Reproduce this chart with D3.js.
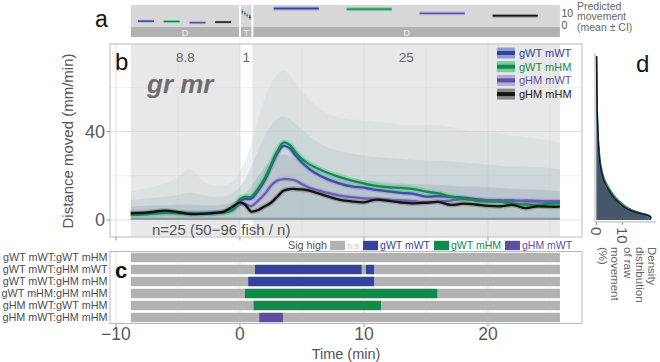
<!DOCTYPE html>
<html>
<head>
<meta charset="utf-8">
<script src="https://cdn.jsdelivr.net/npm/d3@7"></script>
<style>
  body { margin: 0; background: #fff; }
  text { font-family: "Liberation Sans", Arial, Helvetica, sans-serif; }
</style>
</head>
<body>
<svg id="chart" width="660" height="362"></svg>
<script>
"use strict";

// ---- data ----
const groups = ["gWT mWT", "gWT mHM", "gHM mWT", "gHM mHM"];
const groupColors = ["#34439b", "#0f8a4b", "#5d50a2", "#161616"];
const lineColors = ["#3d4ea6", "#128c4d", "#6a5db2", "#121212"];
const haloColors = ["#8a94cc", "#6cc595", "#aaa2d8", "#7d7d7d"];

const periodNames = ["D", "T", "D"];
const periodLabels = ["8.8", "1", "25"];
const periodStart = [-8.8, 0, 1];
const periodEnd = [0, 1, 25.8];

// predicted movement (panel a), per group, per period
const predPre = [3.6, 3.3, 2.3, 2.8];
const predPreCI = [1.1, 1.1, 1.3, 1.0];
const predTrans = [11.5, 10.0, 8.5, 7.0];
const predTransCI = [2.2, 2.2, 2.2, 2.2];
const predPost = [14.4, 13.8, 10.2, 8.2];
const predPostCI = [1.6, 1.6, 1.5, 1.4];

// mean traces (panel b)
const times = [-8.8, -7.5, -6, -5, -4, -3, -2, -1.3, -0.6, 0, 0.4, 0.9, 1.5, 2, 2.5, 3, 3.5, 4, 4.5, 5,
  5.5, 6, 7, 8, 9, 10, 11, 12, 13, 14, 15, 16, 17, 18, 19, 20, 21, 22, 23, 24, 25, 25.8];
const meanWTWT = [2.8, 3.0, 3.6, 3.3, 3.0, 3.0, 3.3, 3.6, 4.6, 8.8, 9.5, 9.6, 13.5, 18, 24, 30, 33.5, 32.5, 29, 26,
  23.5, 21.5, 18.6, 16.6, 15.2, 14.6, 13.6, 12.9, 12.3, 11.8, 10.6, 10.8, 10.4, 10.1, 9.4, 9.0, 8.8, 8.8, 8.4, 8.4, 8.3, 8.3];
const meanWTHM = [2.2, 2.6, 3.2, 3.0, 2.8, 2.9, 3.0, 3.4, 4.5, 9.5, 10.5, 10.5, 14.5, 19, 25, 31, 35, 34, 30.5, 27.5,
  25.5, 24, 21.5, 19.5, 17.8, 16.5, 15.4, 14.8, 14.5, 14.0, 12.8, 12.0, 10.6, 9.7, 8.8, 8.3, 8.2, 7.5, 7.0, 6.9, 7.4, 7.5];
const meanHMWT = [3.2, 3.4, 3.8, 3.4, 3.1, 3.0, 3.3, 3.5, 4.4, 7.0, 7.2, 6.3, 9.0, 11.8, 15.5, 17.8, 18.5, 18.4, 17.8, 16.2,
  14.8, 13.8, 12.4, 11.1, 10.3, 9.8, 9.5, 9.2, 8.8, 8.5, 7.8, 8.3, 8.8, 9.4, 9.0, 8.8, 8.6, 8.4, 8.8, 8.6, 8.5, 8.5];
const meanHMHM = [3.0, 3.3, 4.2, 3.5, 2.7, 2.8, 3.2, 3.8, 6.0, 8.0, 7.0, 3.8, 4.6, 6.2, 7.8, 10.5, 13.2, 14.0, 14.0, 13.8,
  13.4, 12.6, 10.8, 9.2, 8.4, 8.0, 9.2, 8.6, 7.9, 7.5, 7.8, 8.2, 6.8, 7.4, 7.0, 6.4, 6.2, 6.8, 5.4, 6.2, 6.0, 6.0];

// spread of the individual traces (panel b background)
const cloudT = [-8.8, -7, -5, -4, -3, -1.5, -0.5, 0, 0.5, 1, 1.5, 2, 2.5, 3, 3.5, 4, 5, 6, 7, 8, 10, 12, 14, 16, 18, 20, 22, 24, 25.8];
const cloudOuter = [13, 15, 18, 26, 16, 15, 17, 22, 28, 36, 46, 55, 62, 66, 68, 66, 58, 52, 48, 46, 45, 44, 42, 44, 40, 40, 38, 37, 35];
const cloudMid = [9, 10, 11, 13, 11, 10, 12, 15, 19, 25, 32, 38, 43, 46, 47, 46, 41, 36, 33, 31, 29, 28, 27, 27, 26, 25, 24, 24, 23];
const cloudInner = [6, 6.5, 7, 7, 6.5, 6.5, 8, 10, 12, 16, 20, 24, 27, 29, 30, 29, 26, 23, 21, 19, 18, 17, 16, 16, 15, 15, 14, 14, 13];

// significance (panel c)
const sigPairs = ["gWT mWT:gWT mHM", "gWT mWT:gHM mWT", "gWT mWT:gHM mHM",
  "gWT mHM:gHM mHM", "gHM mWT:gWT mHM", "gHM mWT:gHM mHM"];
const sigRow = [1, 1, 2, 3, 4, 5];
const sigFrom = [1.21, 10.16, 0.67, 0.40, 1.10, 1.56];
const sigTo = [9.81, 10.81, 10.81, 15.91, 11.37, 3.47];
const sigHigh = ["gWT mWT", "gWT mWT", "gWT mWT", "gWT mHM", "gWT mHM", "gHM mWT"];

// density of raw movement (panel d)
const densV = [0, 1, 1.5, 2.3, 3, 4.5, 6, 7.7, 10.4, 14.9, 18.1, 24, 36, 51, 74];
const densWTWT = [19, 20, 20.5, 20, 17.5, 13.5, 11, 9.2, 6.5, 4.1, 2.4, 1.2, 0.6, 0.25, 0.05];
const densWTHM = [18, 19, 19.5, 19, 17, 13.5, 11.2, 9.6, 7.0, 4.6, 3.0, 1.6, 0.7, 0.2, 0];
const densHMWT = [19.5, 20.5, 21, 20, 17, 13, 10.6, 9.0, 6.4, 3.9, 2.4, 1.2, 0.5, 0.2, 0];
const densHMHM = [20.5, 21, 21, 19.5, 16.5, 12.5, 10.2, 8.8, 6.2, 4.0, 2.6, 1.3, 0.6, 0.2, 0];

const xTicks = [-10, 0, 10, 20];
const xMinor = [-5, 5, 15, 25];
const yTicks = [0, 40];
const yMinor = [20, 60];

// ---- scales ----
const svg = d3.select("#chart");
const x = d3.scaleLinear().domain([-10.48, 27.58]).range([110, 582]);
const yB = d3.scaleLinear().domain([-7.7, 79.6]).range([237, 44]);
const yA = d3.scaleLinear().domain([-1.4, 17.4]).range([27, 5]);
const xD = d3.scaleLinear().domain([0, 10]).range([596.5, 622.5]);
const means = [meanWTWT, meanWTHM, meanHMWT, meanHMHM];
const dens = [densWTWT, densWTHM, densHMWT, densHMHM];
const axisGrey = "#595959";

// ---- panel a ----
const gA = svg.append("g");
const preds = [predPre, predTrans, predPost];
const predCIs = [predPreCI, predTransCI, predPostCI];
periodStart.forEach((s, i) => {
  const x0 = x(s) + (i > 0 ? 1 : 0);
  const x1 = x(periodEnd[i]) - (i < 2 ? 1 : 0);
  const w = x1 - x0;
  gA.append("rect").attr("x", x0).attr("y", 5).attr("width", w).attr("height", 22).attr("fill", "#d7d7d7");
  gA.append("rect").attr("x", x0).attr("y", 27).attr("width", w).attr("height", 10).attr("fill", "#b2b2b2");
  gA.append("text").attr("x", x0 + w / 2).attr("y", 35.5).attr("text-anchor", "middle")
    .attr("font-size", 9).attr("fill", "#f2f2f2").text(periodNames[i]);
  groups.forEach((g, j) => {
    const cx = x0 + w * (0.14 + 0.238 * j);
    const len = Math.max(w * 0.147, 1.6);
    const m = preds[i][j], ci = predCIs[i][j];
    gA.append("rect").attr("x", cx - len / 2).attr("y", yA(m + ci))
      .attr("width", len).attr("height", yA(m - ci) - yA(m + ci))
      .attr("fill", haloColors[j]).attr("opacity", 0.9);
    gA.append("line").attr("x1", cx - len / 2).attr("x2", cx + len / 2)
      .attr("y1", yA(m)).attr("y2", yA(m)).attr("stroke", groupColors[j]).attr("stroke-width", 1.3);
  });
});
[10, 0].forEach(v => {
  gA.append("text").attr("x", 561.5).attr("y", yA(v)).attr("dy", "0.36em")
    .attr("font-size", 10.5).attr("fill", axisGrey).text(v);
});
["Predicted", "movement", "(mean \u00b1 CI)"].forEach((t, i) => {
  gA.append("text").attr("x", 577).attr("y", 6 + i * 10.5).attr("dy", "0.35em")
    .attr("font-size", 10.5).attr("fill", "#666").text(t);
});
svg.append("text").attr("x", 95).attr("y", 27).attr("font-size", 23).attr("fill", "#111").text("a");

// ---- panel b ----
const gB = svg.append("g");
gB.append("rect").attr("x", 110).attr("y", 44).attr("width", 472).attr("height", 193).attr("fill", "#fff");
xTicks.concat(xMinor).forEach(t => {
  gB.append("line").attr("x1", x(t)).attr("x2", x(t)).attr("y1", 44).attr("y2", 237)
    .attr("stroke", "#dedede").attr("stroke-width", xTicks.includes(t) ? 0.9 : 0.5);
});
yTicks.concat(yMinor).forEach(t => {
  gB.append("line").attr("x1", 110).attr("x2", 582).attr("y1", yB(t)).attr("y2", yB(t))
    .attr("stroke", "#dedede").attr("stroke-width", yTicks.includes(t) ? 0.9 : 0.5);
});
periodStart.forEach((s, i) => {
  if (periodNames[i] === "D") {
    gB.append("rect").attr("x", x(s)).attr("y", 44.5).attr("width", x(periodEnd[i]) - x(s))
      .attr("height", 192).attr("fill", "#d2d2d2").attr("opacity", 0.5);
  }
  gB.append("text").attr("x", x((s + periodEnd[i]) / 2)).attr("y", 62).attr("text-anchor", "middle")
    .attr("font-size", 13.5).attr("fill", "#666").text(periodLabels[i]);
});

// trace cloud
const cloudLayers = [[cloudOuter, "#c6d4d7", 0.32], [cloudMid, "#b0c3c8", 0.35], [cloudInner, "#98aeb5", 0.38]];
cloudLayers.forEach(([vals, col, op]) => {
  const area = d3.area().curve(d3.curveBasis)
    .x((d, i) => x(cloudT[i])).y0(yB(0)).y1((d) => yB(d));
  gB.append("path").datum(vals).attr("d", area).attr("fill", col).attr("opacity", op);
});
gB.append("line").attr("x1", x(-8.8)).attr("x2", x(25.8)).attr("y1", yB(0.6)).attr("y2", yB(0.6))
  .attr("stroke", "#6d8590").attr("stroke-width", 2).attr("opacity", 0.7);

// mean lines
const meanLine = d3.line().curve(d3.curveCatmullRom.alpha(0.5)).x((d, i) => x(times[i])).y(d => yB(d));
[0, 2, 1, 3].forEach(j => {
  gB.append("path").datum(means[j]).attr("d", meanLine).attr("fill", "none")
    .attr("stroke", haloColors[j]).attr("stroke-width", j === 1 ? 6 : 5).attr("opacity", 0.55);
});
[0, 2, 1, 3].forEach(j => {
  gB.append("path").datum(means[j]).attr("d", meanLine).attr("fill", "none")
    .attr("stroke", lineColors[j]).attr("stroke-width", 2.3);
});

gB.append("rect").attr("x", 110).attr("y", 44).attr("width", 472).attr("height", 193)
  .attr("fill", "none").attr("stroke", "#b3b3b3").attr("stroke-width", 0.9);

// legend
groups.forEach((g, j) => {
  const yy = 53 + j * 13.7;
  gB.append("rect").attr("x", 497).attr("y", yy - 5.5).attr("width", 18).attr("height", 11)
    .attr("fill", haloColors[j]).attr("opacity", 0.9);
  gB.append("line").attr("x1", 497).attr("x2", 515).attr("y1", yy).attr("y2", yy)
    .attr("stroke", groupColors[j]).attr("stroke-width", 4);
  gB.append("text").attr("x", 519).attr("y", yy).attr("dy", "0.35em").attr("font-size", 11)
    .attr("fill", groupColors[j]).text(g);
});

gB.append("text").attr("x", 147).attr("y", 93).attr("font-size", 26).attr("font-weight", "bold")
  .attr("font-style", "italic").attr("fill", "#6e6e6e").text("gr mr");
gB.append("text").attr("x", 152).attr("y", 235).attr("font-size", 15).attr("fill", "#555")
  .text("n=25 (50\u221296 fish / n)");
svg.append("text").attr("x", 115).attr("y", 70).attr("font-size", 24).attr("fill", "#111").text("b");

// axes of b
yTicks.forEach(t => {
  gB.append("line").attr("x1", 106.5).attr("x2", 110).attr("y1", yB(t)).attr("y2", yB(t)).attr("stroke", "#999");
  gB.append("text").attr("x", 105).attr("y", yB(t)).attr("dy", "0.36em").attr("text-anchor", "end")
    .attr("font-size", 18).attr("fill", axisGrey).text(t);
});
xTicks.forEach(t => {
  gB.append("line").attr("x1", x(t)).attr("x2", x(t)).attr("y1", 237).attr("y2", 240.5).attr("stroke", "#999");
});
svg.append("text").attr("transform", "translate(73,141) rotate(-90)").attr("text-anchor", "middle")
  .attr("font-size", 15).attr("fill", "#555").text("Distance moved (mm/min)");

// ---- panel c ----
const gC = svg.append("g");
const yC = d3.scaleBand().domain(d3.range(sigPairs.length)).range([251.5, 323.5]).paddingInner(0.22).paddingOuter(0.11);
gC.append("rect").attr("x", 110).attr("y", 251.5).attr("width", 472).attr("height", 72).attr("fill", "#fff");
xTicks.concat(xMinor).forEach(t => {
  gC.append("line").attr("x1", x(t)).attr("x2", x(t)).attr("y1", 251.5).attr("y2", 323.5)
    .attr("stroke", "#e4e4e4").attr("stroke-width", xTicks.includes(t) ? 0.9 : 0.5);
});
sigPairs.forEach((p, i) => {
  gC.append("rect").attr("x", x(-8.8)).attr("y", yC(i)).attr("width", x(25.8) - x(-8.8))
    .attr("height", yC.bandwidth()).attr("fill", "#b2b2b2");
  gC.append("text").attr("x", 107.5).attr("y", yC(i) + yC.bandwidth() / 2).attr("dy", "0.36em")
    .attr("text-anchor", "end").attr("font-size", 10.8).attr("fill", "#4d4d4d").text(p);
});
sigRow.forEach((r, k) => {
  gC.append("rect").attr("x", x(sigFrom[k])).attr("y", yC(r)).attr("width", x(sigTo[k]) - x(sigFrom[k]))
    .attr("height", yC.bandwidth()).attr("fill", groupColors[groups.indexOf(sigHigh[k])]);
});
gC.append("rect").attr("x", 110).attr("y", 251.5).attr("width", 472).attr("height", 72)
  .attr("fill", "none").attr("stroke", "#b3b3b3").attr("stroke-width", 0.9);
svg.append("text").attr("x", 115).attr("y", 278).attr("font-size", 22).attr("font-weight", "bold")
  .attr("fill", "#111").text("c");

// legend of c
let cx = 288;
const sigT = gC.append("text").attr("x", cx).attr("y", 245.5).attr("dy", "0.36em").attr("font-size", 10.8)
  .attr("fill", "#555").text("Sig high");
cx += sigT.node().getComputedTextLength() + 3;
const legItems = [["n.s", "#b2b2b2", "#c4c4c4"]].concat(groups.slice(0, 3).map((g, j) => [g, groupColors[j], groupColors[j]]));
legItems.forEach(([lab, col, tcol]) => {
  gC.append("rect").attr("x", cx).attr("y", 240.8).attr("width", 15).attr("height", 9.4).attr("fill", col);
  cx += 17;
  const t = gC.append("text").attr("x", cx).attr("y", 245.5).attr("dy", "0.36em")
    .attr("font-size", lab === "n.s" ? 9 : 10.5).attr("fill", tcol).text(lab);
  cx += t.node().getComputedTextLength() + 4;
});

// x axis (bottom)
xTicks.forEach(t => {
  gC.append("line").attr("x1", x(t)).attr("x2", x(t)).attr("y1", 323.5).attr("y2", 327).attr("stroke", "#999");
  gC.append("text").attr("x", x(t)).attr("y", 340).attr("text-anchor", "middle")
    .attr("font-size", 17.5).attr("fill", axisGrey).text(t < 0 ? "\u2212" + Math.abs(t) : t);
});
svg.append("text").attr("x", 346).attr("y", 358.5).attr("text-anchor", "middle")
  .attr("font-size", 14.5).attr("fill", "#555").text("Time (min)");

// ---- panel d ----
const gD = svg.append("g");
const densArea = d3.area().curve(d3.curveBasis).y((d, i) => yB(densV[i])).x0(xD(0)).x1(d => xD(d));
const densLine = d3.line().curve(d3.curveBasis).y((d, i) => yB(densV[i])).x(d => xD(d));
dens.forEach((vals, j) => {
  gD.append("path").datum(vals).attr("d", densArea).attr("fill", groupColors[j]).attr("opacity", 0.4);
});
[0, 1, 2, 3].forEach(j => {
  gD.append("path").datum(dens[j]).attr("d", densLine).attr("fill", "none")
    .attr("stroke", lineColors[j]).attr("stroke-width", 1.3);
});
gD.append("line").attr("x1", 595).attr("x2", 595).attr("y1", yB(75.5)).attr("y2", yB(-0.9)).attr("stroke", "#b3b3b3");
gD.append("line").attr("x1", 595).attr("x2", 656).attr("y1", yB(-0.9)).attr("y2", yB(-0.9)).attr("stroke", "#b3b3b3");
[0, 10].forEach(t => {
  gD.append("line").attr("x1", xD(t)).attr("x2", xD(t)).attr("y1", yB(-0.9)).attr("y2", yB(-0.9) + 3).attr("stroke", "#999");
  gD.append("text").attr("transform", `translate(${xD(t)},${yB(-0.9) + 5}) rotate(90)`)
    .attr("dy", "0.36em").attr("font-size", 15).attr("fill", axisGrey).text(t);
});
["Density", "distribution", "of raw", "movement", "(%)"].forEach((t, i) => {
  gD.append("text").attr("transform", `translate(${648 - i * 12.2},247) rotate(90)`)
    .attr("font-size", 11.5).attr("fill", "#666").text(t);
});
svg.append("text").attr("x", 636).attr("y", 72).attr("font-size", 24).attr("fill", "#111").text("d");
</script>
</body>
</html>
